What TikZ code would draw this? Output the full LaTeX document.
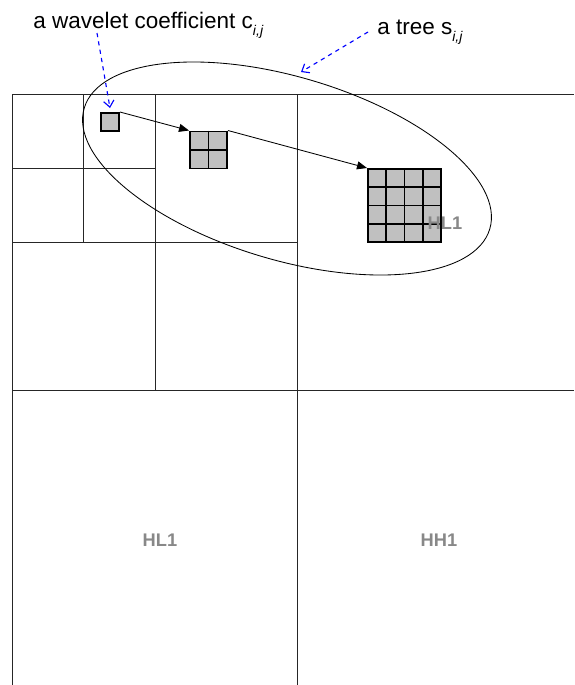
\documentclass[tikz,border=0pt]{standalone}
\usepackage{fontspec}
\setmainfont{Liberation Sans}
\usetikzlibrary{arrows.meta,calc}
\definecolor{LabelGray}{HTML}{888888}
\definecolor{CellGray}{HTML}{C0C0C0}
\newcommand{\idx}[1]{\raisebox{-5pt}{\fontsize{10}{12}\selectfont\itshape #1}}

\begin{document}
\begin{tikzpicture}[x=0.025cm,y=-0.025cm,
  band/.style={line width=.6pt,color=black!85},
  cellbox/.style={rectangle,draw=black,fill=CellGray,line width=1.4pt,inner sep=0pt},
  link/.style={-{Triangle[length=.25cm,width=.2cm]},line width=.6pt},
  pointer/.style={-{Straight Barb[length=.16cm,width=.26cm]},dashed,line width=.8pt,color=blue},
  caption/.style={anchor=base west,inner sep=0pt,font=\fontsize{16}{19}\selectfont},
  sub/.style={font=\bfseries\fontsize{13}{15}\selectfont,text=LabelGray}]
  \useasboundingbox (0,0) rectangle (574,685);
  % subbands
  \draw[band] (12,685) -- (12,94) -- (574,94);
  \draw[band] (297,94) -- (297,685);
  \draw[band] (12,390) -- (574,390);
  \draw[band] (155,94) -- (155,390);
  \draw[band] (12,242) -- (297,242);
  \draw[band] (83,94) -- (83,242);
  \draw[band] (12,168) -- (155,168);
  % the tree
  \draw[line width=.6pt,rotate around={-16.6:(287,168.5)}] (287,168.5) ellipse [x radius=211.6,y radius=91.5];
  \coordinate (treetip) at (301,72);
  % coefficient and its descendants
  \node[cellbox,minimum size=.45cm] (cij) at (110,122) {};
  \node[cellbox,minimum size=.925cm] (kids) at (208.5,150) {};
  \draw[line width=1.4pt] (kids.north) -- (kids.south) (kids.west) -- (kids.east);
  \node[cellbox,minimum size=1.825cm] (grand) at (404.5,205.5) {};
  \foreach \k in {1,2,3}{
    \draw[line width=1.4pt] ($(grand.north west)!\k/4!(grand.north east)$) -- ($(grand.south west)!\k/4!(grand.south east)$);
    \draw[line width=1.4pt] ($(grand.north west)!\k/4!(grand.south west)$) -- ($(grand.north east)!\k/4!(grand.south east)$);
  }
  \draw[link] (cij.north east) -- (kids.north west);
  \draw[link] (kids.north east) -- (grand.north west);
  % labels
  \node[sub] (lh) at (445,223) {HL1};
  \node[sub] (hl) at (160,540.5) {HL1};
  \node[sub] (hh) at (439,540.5) {HH1};
  \node[caption] (coeflabel) at (33,28) {a wavelet coefficient c\idx{i,j}};
  \node[caption] (treelabel) at (377,34) {a tree s\idx{i,j}};
  \draw[pointer] ($(coeflabel.base west)+(64,5)$) -- ([yshift=.1cm]cij.north);
  \draw[pointer] ($(treelabel.base west)+(-9,-2)$) -- (treetip);
\end{tikzpicture}
\end{document}
